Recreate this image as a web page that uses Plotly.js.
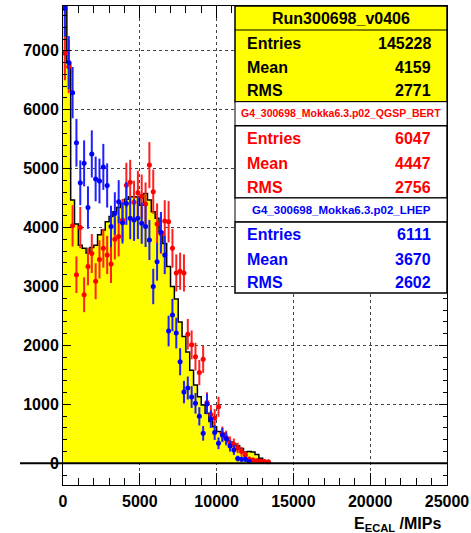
<!DOCTYPE html>
<html><head><meta charset="utf-8">
<script src="https://cdn.plot.ly/plotly-3.0.1.min.js"></script>
<style>html,body{margin:0;padding:0;background:#fff}#chart{width:471px;height:533px}</style>
</head><body><div id="chart"></div>
<script>
const binWidth = 250;
// data histogram (Run300698_v0406), bins of 250 MIPs starting at 0
const dataCounts = [7900,6800,4470,4060,3700,3650,3570,3660,3700,3880,3960,4100,4190,4270,4340,4410,4480,4525,4525,4520,
  4380,4580,4470,4270,4160,3930,3730,3340,3000,2790,2400,2150,1890,1580,1330,1130,990,850,710,620,
  540,510,425,367,330,300,250,190,200,190,150,85,0,0];
// QGSP_BERT simulation (red)
const qgspValues = [6960,6730,4030,3200,4000,2860,3340,3560,3090,3460,3650,3535,3380,3800,3850,4130,4720,4770,4430,4590,
  4530,4400,5060,4610,4060,3900,4110,4100,3650,3230,3260,3230,2190,2010,1810,1540,1765,1030,830,770,
  960,500,440,350,320,260,200,140,70,55,45,40,30,27];
const qgspErrors = [460,450,350,310,350,295,320,330,305,325,330,325,320,340,340,355,380,380,365,375,
  370,365,390,375,350,345,355,350,330,315,315,315,260,245,235,215,230,175,160,150,
  170,125,115,105,100,90,80,65,45,40,37,35,30,28];
// LHEP simulation (blue)
const lhepValues = [7720,6800,6290,5440,4760,5090,4340,5250,4825,4790,5030,4715,4020,4240,4440,4080,4410,4158,4130,4160,
  4075,4020,3790,3000,3420,3920,3535,2245,2517,2210,1724,1208,1278,1125,1018,797,509,1006,750,522,
  340,480,415,294,226,80,68,68,30];
const lhepErrors = [480,450,435,405,380,390,360,400,380,380,390,375,350,360,365,350,365,355,355,355,
  350,350,340,300,320,345,325,260,275,260,230,190,195,185,175,155,125,175,150,125,
  100,120,110,95,83,50,45,45,30];

const statLabels = ['Entries','Mean','RMS'];
const boxTitles = ['Run300698_v0406','G4_300698_Mokka6.3.p02_QGSP_BERT','G4_300698_Mokka6.3.p02_LHEP'];
const dataStats = ['145228','4159','2771'];
const qgspStats = ['6047','4447','2756'];
const lhepStats = ['6111','3670','2602'];
const xTickVals = [0,5000,10000,15000,20000,25000];
const yTickVals = [0,1000,2000,3000,4000,5000,6000,7000];

// histogram outline points (bin edges)
const histX = [], histY = [];
for (let i = 0; i < dataCounts.length; i++) { histX.push(i*binWidth); histY.push(dataCounts[i]); }
histX.push(dataCounts.length*binWidth); histY.push(0);
const centers = n => Array.from({length:n}, (_, i) => (i+0.5)*binWidth);

const FONT = 'Liberation Sans, Arial, Helvetica, sans-serif';
const traces = [
  {x: histX, y: histY, type:'scatter', mode:'lines', line:{shape:'hv', color:'#000', width:1.5},
   fill:'tozeroy', fillcolor:'#ffff00', hoverinfo:'skip', showlegend:false},
  {x: centers(qgspValues.length), y: qgspValues, type:'scatter', mode:'markers',
   marker:{color:'#ff0000', size:5}, error_y:{type:'data', array:qgspErrors, color:'#ff2020', thickness:2, width:0},
   error_x:{type:'constant', value:binWidth/2, color:'#ff0000', thickness:1.5, width:0}, showlegend:false},
  {x: centers(lhepValues.length), y: lhepValues, type:'scatter', mode:'markers',
   marker:{color:'#0000ff', size:5}, error_y:{type:'data', array:lhepErrors, color:'#2020ff', thickness:2, width:0},
   error_x:{type:'constant', value:binWidth/2, color:'#0000ff', thickness:1.5, width:0}, showlegend:false}
];

const L = 63, T = 6, PW = 384, PH = 479;
const px = x => (x - L)/PW;
const py = y => (T + PH - y)/PH;

const shapes = [
  {type:'line', xref:'paper', yref:'y', x0:px(20), x1:1, y0:0, y1:0, line:{color:'#000', width:2}},
  {type:'rect', xref:'paper', yref:'paper', x0:px(235), x1:px(447), y0:py(6), y1:py(101.7), fillcolor:'#ffff00', line:{color:'#000', width:1.5}},
  {type:'line', xref:'paper', yref:'paper', x0:px(235), x1:px(447), y0:py(30), y1:py(30), line:{color:'#000', width:1}},
  {type:'rect', xref:'paper', yref:'paper', x0:px(235), x1:px(447), y0:py(101.7), y1:py(125.7), fillcolor:'#fff', line:{color:'#000', width:1}},
  {type:'rect', xref:'paper', yref:'paper', x0:px(235), x1:px(447), y0:py(125.7), y1:py(198), fillcolor:'#fff', line:{color:'#000', width:1.5}},
  {type:'rect', xref:'paper', yref:'paper', x0:px(235), x1:px(447), y0:py(198), y1:py(222), fillcolor:'#fff', line:{color:'#000', width:1}},
  {type:'rect', xref:'paper', yref:'paper', x0:px(235), x1:px(447), y0:py(222), y1:py(293), fillcolor:'#fff', line:{color:'#000', width:1.5}}
];

const annotations = [];
function txt(text, x, y, anchor, size, color) {
  annotations.push({text:text, xref:'paper', yref:'paper', x:px(x), y:py(y), xanchor:anchor, yanchor:'middle',
    showarrow:false, font:{family:FONT, size:size, color:color, weight:'bold'}});
}
txt(boxTitles[0], 341, 18, 'center', 16, '#000');
txt(boxTitles[1], 341, 113, 'center', 10.5, '#ff0000');
txt(boxTitles[2], 341, 210, 'center', 11.5, '#0000ff');
const rowsY = [[43,67,90],[138.5,163,187],[235,259,282]];
const vals = [dataStats, qgspStats, lhepStats];
const cols = ['#000','#ff0000','#0000ff'];
for (let b = 0; b < 3; b++) for (let r = 0; r < 3; r++) {
  txt(statLabels[r], 245, rowsY[b][r], 'left', 16, cols[b]);
  txt(vals[b][r], 433, rowsY[b][r], 'right', 16, cols[b]);
}
annotations.push({text:'E<sub>ECAL</sub> /MIPs', xref:'paper', yref:'paper', x:px(443), y:py(524), xanchor:'right', yanchor:'middle',
  showarrow:false, font:{family:FONT, size:16, color:'#000', weight:'bold'}});

const layout = {
  width:471, height:533, margin:{l:L, r:471-L-PW, t:T, b:533-T-PH}, paper_bgcolor:'#fff', plot_bgcolor:'#fff',
  showlegend:false,
  xaxis:{range:[0,25000], tickvals:xTickVals, ticktext:xTickVals.map(String), ticks:'inside', ticklen:12, tickwidth:1,
    tickcolor:'#000', showline:true, linecolor:'#000', linewidth:1, mirror:'ticks', zeroline:false,
    showgrid:true, gridcolor:'#444', griddash:'dot', gridwidth:1, ticklabelstandoff:2,
    minor:{dtick:1000, ticks:'inside', ticklen:7, tickcolor:'#000', showgrid:false},
    tickfont:{family:FONT, size:16, color:'#000', weight:'bold'}},
  yaxis:{range:[-368,7760], tickvals:yTickVals, ticks:'inside', ticklen:8, tickwidth:1, tickcolor:'#000',
    showline:true, linecolor:'#000', linewidth:1, mirror:'ticks', zeroline:false,
    showgrid:true, gridcolor:'#444', griddash:'dot', gridwidth:1,
    minor:{dtick:200, ticks:'inside', ticklen:4, tickcolor:'#000', showgrid:false},
    tickfont:{family:FONT, size:16, color:'#000', weight:'bold'}},
  shapes:shapes, annotations:annotations
};
Plotly.newPlot('chart', traces, layout, {staticPlot:true, displayModeBar:false});
</script></body></html>
